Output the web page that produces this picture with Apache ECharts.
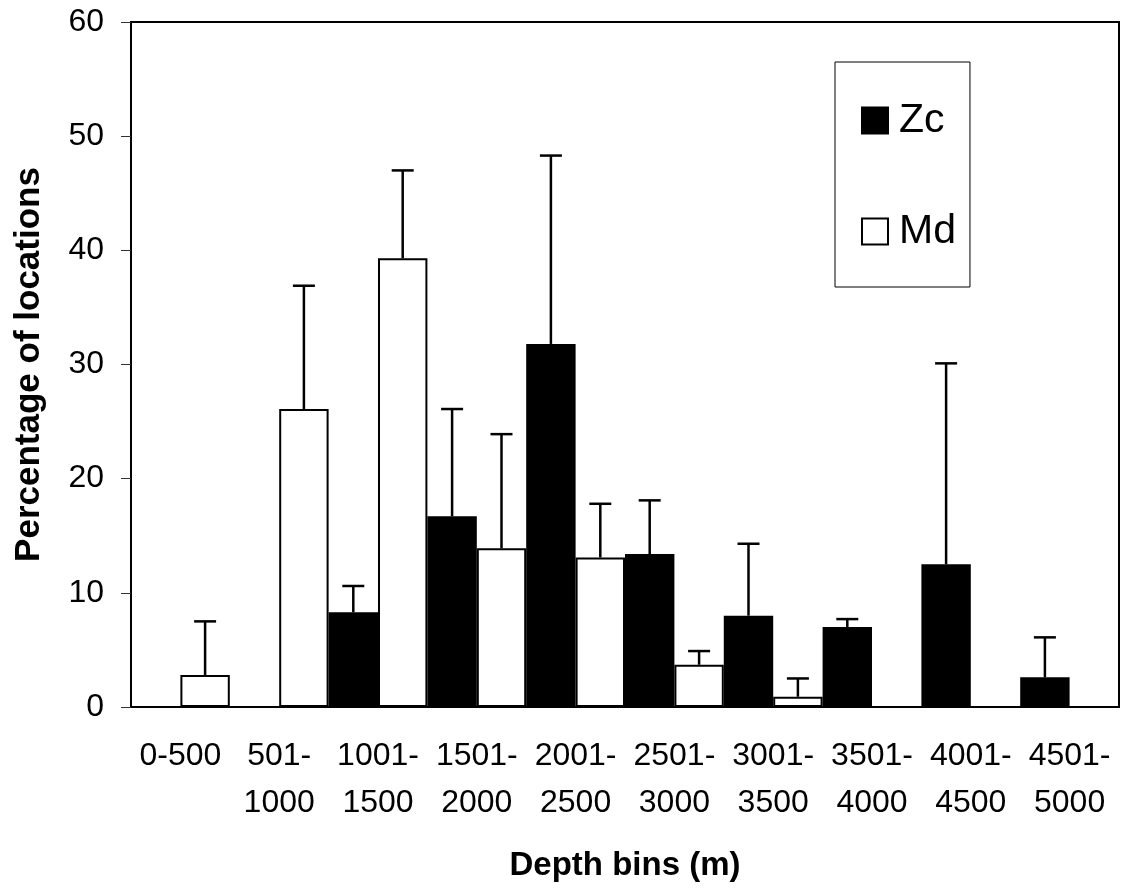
<!DOCTYPE html>
<html>
<head>
<meta charset="utf-8">
<script src="https://cdn.jsdelivr.net/npm/echarts@6/dist/echarts.min.js"></script>
<style>
html,body{margin:0;padding:0;background:#fff;}
#main{width:1123px;height:890px;}
</style>
</head>
<body>
<div id="main"></div>
<script>
var bins = ['0-500', '501-\n1000', '1001-\n1500', '1501-\n2000', '2001-\n2500',
	'2501-\n3000', '3001-\n3500', '3501-\n4000', '4001-\n4500', '4501-\n5000'];

// percentages per depth bin
var zcValues = [0, 0, 8.3, 16.7, 31.8, 13.4, 8.0, 7.0, 12.5, 2.6];
var mdValues = [2.8, 26.1, 39.3, 13.9, 13.1, 3.7, 0.9, 0, 0, 0];

// upper end of error bars (null = no bar)
var zcErrTop = [null, null, 10.6, 26.1, 48.3, 18.1, 14.3, 7.7, 30.1, 6.1];
var mdErrTop = [7.5, 36.9, 47.0, 23.9, 17.8, 4.9, 2.5, null, null, null];

var yTicks = {min: 0, max: 60, interval: 10};

function errData(vals, tops) {
	var out = [];
	vals.forEach(function (v, i) {
		if (tops[i] != null) out.push([i, v, tops[i]]);
	});
	return out;
}

function errRender(side) {
	return function (params, api) {
		var i = api.value(0);
		var low = api.coord([i, api.value(1)]);
		var high = api.coord([i, api.value(2)]);
		var bw = api.size([1, 0])[0];
		var x = low[0] + side * bw / 4;
		var cap = 11;
		var st = {stroke: '#000', lineWidth: 2.5};
		return {
			type: 'group',
			children: [
				{type: 'line', shape: {x1: x, y1: low[1], x2: x, y2: high[1]}, style: st},
				{type: 'line', shape: {x1: x - cap, y1: high[1], x2: x + cap, y2: high[1]}, style: st}
			]
		};
	};
}

var chart = echarts.init(document.getElementById('main'));

var option = {
	backgroundColor: '#fff',
	animation: false,
	textStyle: {fontFamily: 'Liberation Sans, Arial, sans-serif', color: '#000'},
	grid: {
		left: 131, right: 4, top: 22, bottom: 183,
		show: true, borderColor: '#000', borderWidth: 2
	},
	legend: {
		orient: 'vertical',
		left: 835, top: 62,
		padding: [38, 14, 35, 26],
		itemWidth: 26, itemHeight: 26, itemGap: 70,
		borderColor: '#000', borderWidth: 1,
		icon: 'rect',
		textStyle: {fontSize: 41, lineHeight: 36, color: '#000', padding: [0, 0, 0, 6]},
		data: ['Zc', 'Md']
	},
	xAxis: {
		type: 'category',
		data: bins,
		name: 'Depth bins (m)',
		nameLocation: 'middle',
		nameGap: 142,
		nameTextStyle: {fontSize: 33, fontWeight: 'bold', color: '#000'},
		axisLine: {lineStyle: {color: '#000', width: 2}},
		axisTick: {length: 10, lineStyle: {color: '#333', width: 1}},
		axisLabel: {fontSize: 32, lineHeight: 47, margin: 26, color: '#000', interval: 0}
	},
	yAxis: {
		type: 'value',
		min: yTicks.min, max: yTicks.max, interval: yTicks.interval,
		name: 'Percentage of locations',
		nameLocation: 'middle',
		nameGap: 84,
		nameTextStyle: {fontSize: 35, fontWeight: 'bold', color: '#000'},
		axisLine: {show: true, lineStyle: {color: '#000', width: 2}},
		axisTick: {show: true, length: 10, lineStyle: {color: '#333', width: 1}},
		axisLabel: {fontSize: 32, margin: 27, color: '#000'},
		splitLine: {show: false}
	},
	series: [
		{
			name: 'Zc', type: 'bar', data: zcValues,
			barGap: '0%', barCategoryGap: '0%',
			itemStyle: {color: '#000', borderColor: '#000', borderWidth: 2}
		},
		{
			name: 'Md', type: 'bar', data: mdValues,
			itemStyle: {color: '#fff', borderColor: '#000', borderWidth: 2}
		},
		{
			type: 'custom', name: 'zcErr', renderItem: errRender(-1),
			data: errData(zcValues, zcErrTop), z: 3, silent: true
		},
		{
			type: 'custom', name: 'mdErr', renderItem: errRender(1),
			data: errData(mdValues, mdErrTop), z: 3, silent: true
		}
	]
};

chart.setOption(option);
</script>
</body>
</html>
